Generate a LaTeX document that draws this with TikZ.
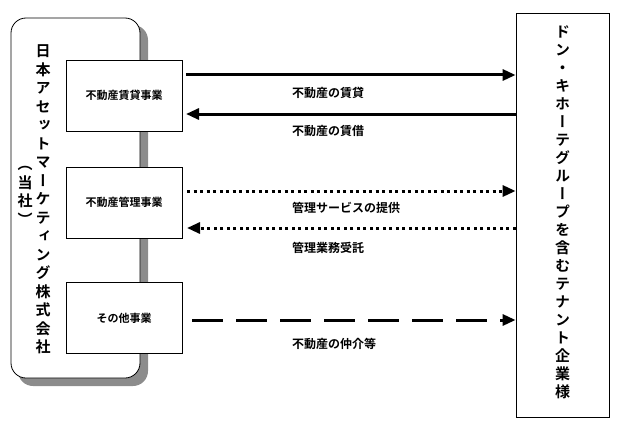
\documentclass[tikz,border=0pt]{standalone}
\usepackage{fontspec}
\usetikzlibrary{arrows.meta}
\setmainfont{Noto Sans CJK JP}[BoldFont={Noto Sans CJK JP Bold}]
\newfontfamily\jpv{Noto Sans CJK JP Bold}[RawFeature=+vert]
\tikzset{
  inbox/.style={draw=black, line width=0.8pt, fill=white, minimum width=116pt, minimum height=71pt, inner sep=0pt, font=\fontsize{11}{13}\selectfont\bfseries},
  lbl/.style={anchor=west, inner sep=0pt, font=\fontsize{12}{14}\selectfont\bfseries},
  vtext/.style={align=center, inner sep=0pt, font=\jpv\fontsize{15}{18.5}\selectfont},
  solidarrow/.style={line width=3pt, -{Triangle[length=13pt,width=11pt]}},
  dotarrow/.style={line width=3pt, dash pattern=on 3pt off 3.5pt, -{Triangle[length=13pt,width=11pt]}},
  dasharrow/.style={line width=3pt, dash pattern=on 31pt off 13pt, -{Triangle[length=13pt,width=11pt]}}
}
\begin{document}
\begin{tikzpicture}[x=1pt,y=-1pt]
\useasboundingbox (0,0) rectangle (637,436);
% company box with shadow
\fill[black!45, rounded corners=15pt] (18,25) rectangle (148,386);
\draw[fill=white, line width=0.8pt, rounded corners=15pt] (11,18) rectangle (140,378);
\node[draw=none, minimum width=129pt, minimum height=360pt] (co) at (75.5,198) {};
\node[vtext] (coname) at (43,199.5) {日\\本\\ア\\セ\\ッ\\ト\\マ\\ー\\ケ\\テ\\ィ\\ン\\グ\\株\\式\\会\\社};
\node[vtext] (tosha) at (25,196) {（\\当\\社\\）};
% business boxes
\node[inbox] (b1) at (124,95.5) {不動産賃貸事業};
\node[inbox] (b2) at (124,202.5) {不動産管理事業};
\node[inbox] (b3) at (124,318) {その他事業};
% tenant box
\node[draw=black, line width=0.8pt, minimum width=93pt, minimum height=404pt, inner sep=0pt] (ten) at (562.5,215) {};
\node[vtext, font=\jpv\fontsize{15}{18}\selectfont] (tenname) at (562.5,212) {ド\\ン\\・\\キ\\ホ\\ー\\テ\\グ\\ル\\ー\\プ\\を\\含\\む\\テ\\ナ\\ン\\ト\\企\\業\\様};
% arrows
\coordinate (a1) at (186,75);
\coordinate (a2) at (186,114);
\coordinate (a3) at (187,191);
\coordinate (a4) at (187,228);
\coordinate (a5) at (192,320);
\draw[solidarrow] (a1) -- (ten.west |- a1);
\draw[solidarrow] (ten.west |- a2) -- (a2);
\draw[dotarrow] (a3) -- (ten.west |- a3);
\draw[dotarrow] (ten.west |- a4) -- (a4);
\draw[dasharrow] (a5) -- (ten.west |- a5);
% labels
\node[lbl] (l1) at (292,93) {不動産の賃貸};
\node[lbl] (l2) at (292,131) {不動産の賃借};
\node[lbl] (l3) at (292,208) {管理サービスの提供};
\node[lbl] (l4) at (292,248) {管理業務受託};
\node[lbl] (l5) at (292,344) {不動産の仲介等};
\end{tikzpicture}
\end{document}
